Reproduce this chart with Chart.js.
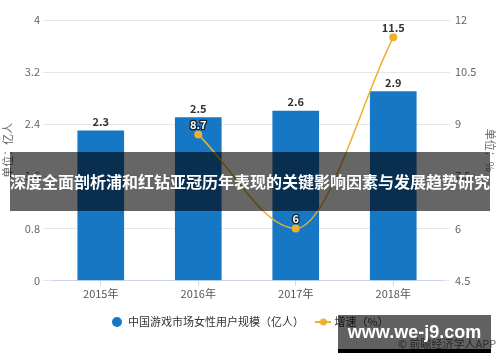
<!DOCTYPE html>
<html>
<head>
<meta charset="utf-8">
<script src="https://cdn.jsdelivr.net/npm/chart.js@4.4.1/dist/chart.umd.min.js"></script>
<style>
  html, body { margin: 0; padding: 0; background: #fff; }
  #wrap { position: relative; width: 500px; height: 362px; overflow: hidden; }
  #banner {
    position: absolute; left: 10px; top: 152px; width: 480px; height: 59px;
    background: rgba(0, 0, 0, 0.6); color: #fff;
    font: bold 16px "Noto Sans CJK SC", sans-serif; line-height: 59px;
    text-align: center; white-space: nowrap;
  }
  #source {
    position: absolute; left: 398px; top: 335px;
    font: 11px "Noto Sans CJK SC", sans-serif; color: #666; white-space: nowrap;
  }
  #site {
    position: absolute; left: 338px; top: 315px; width: 153px; height: 34px;
    background: rgba(0, 0, 0, 0.62); border-bottom: 4px solid #000;
    color: #fff; font: bold 18px "Liberation Sans", Arial, sans-serif;
    line-height: 34px; text-align: center; white-space: nowrap;
  }
</style>
</head>
<body>
<div id="wrap">
  <canvas id="chart" width="500" height="362"></canvas>
  <div id="banner">深度全面剖析浦和红钻亚冠历年表现的关键影响因素与发展趋势研究</div>
  <div id="source">© 前瞻经济学人APP</div>
  <div id="site">www.we-j9.com</div>
</div>
<script>
// データ
const years = ["2015年", "2016年", "2017年", "2018年"];
const femaleUsers = [2.3, 2.5, 2.6, 2.9];       // 亿人
const growthRate = [null, 8.7, 6, 11.5];        // %
const leftTicks = [0, 0.8, 1.6, 2.4, 3.2, 4];
const leftTickLabels = ["0", "0.8", "1.6", "2.4", "3.2", "4"];
const rightTicks = [4.5, 6, 7.5, 9, 10.5, 12];
const rightTickLabels = ["4.5", "6", "7.5", "9", "10.5", "12"];

const BLUE = "#1677c5";
const GOLD = "#eab02e";
const GRID = "#e6e6e6";
const FONT = '"Noto Sans CJK SC", sans-serif';

// 凡例マーカー（丸 / 線+丸）
function makeMarker(kind) {
    const c = document.createElement("canvas");
    const g = c.getContext("2d");
    if (kind === "circle") {
        c.width = 10; c.height = 10;
        g.fillStyle = BLUE;
        g.beginPath(); g.arc(5, 5, 5, 0, Math.PI * 2); g.fill();
    } else {
        c.width = 16; c.height = 10;
        g.strokeStyle = GOLD; g.lineWidth = 2;
        g.beginPath(); g.moveTo(0, 5); g.lineTo(16, 5); g.stroke();
        g.fillStyle = GOLD;
        g.beginPath(); g.arc(8, 5, 3.5, 0, Math.PI * 2); g.fill();
    }
    return c;
}
const markers = [makeMarker("circle"), makeMarker("line")];

// 値ラベル
const valueLabels = {
    id: "valueLabels",
    afterDatasetsDraw(chart) {
        const ctx = chart.ctx;
        const bars = chart.getDatasetMeta(0).data;
        ctx.save();
        ctx.font = "bold 11px " + FONT;
        ctx.textAlign = "center";
        ctx.textBaseline = "middle";
        bars.forEach((bar, i) => {
            ctx.fillStyle = "#333";
            ctx.fillText(String(femaleUsers[i]), bar.x, bar.y - 9);
        });
        chart.getDatasetMeta(1).data.forEach((pt, i) => {
            if (growthRate[i] == null) return;
            const y = pt.y - 10;
            const onBar = y > bars[i].y;
            ctx.lineJoin = "round";
            ctx.lineWidth = 2.5;
            ctx.strokeStyle = onBar ? "rgba(20,20,20,0.85)" : "#fff";
            ctx.fillStyle = onBar ? "#fff" : "#333";
            ctx.strokeText(String(growthRate[i]), pt.x, y);
            ctx.fillText(String(growthRate[i]), pt.x, y);
        });
        ctx.restore();
    },
};

new Chart(document.getElementById("chart"), {
    data: {
        labels: years,
        datasets: [
            {
                type: "bar",
                label: "中国游戏市场女性用户规模（亿人）",
                data: femaleUsers,
                backgroundColor: BLUE,
                barThickness: 46,
                yAxisID: "y",
                order: 2,
            },
            {
                type: "line",
                label: "增速（%）",
                data: growthRate,
                borderColor: GOLD,
                borderWidth: 1.5,
                backgroundColor: GOLD,
                pointRadius: 4,
                pointBorderWidth: 0,
                cubicInterpolationMode: "monotone",
                yAxisID: "y1",
                order: 1,
            },
        ],
    },
    options: {
        responsive: false,
        animation: false,
        layout: { padding: { top: 20, bottom: 24.5, left: 0, right: 0 } },
        scales: {
            x: {
                grid: {
                    drawOnChartArea: false,
                    offset: false,
                    tickLength: 5,
                    tickColor: "#ccd6eb",
                },
                border: { color: "#ccd6eb" },
                ticks: { color: "#555", font: { family: FONT, size: 11 }, padding: 2 },
                afterFit: (s) => { s.height = 22; },
            },
            y: {
                position: "left",
                min: 0,
                max: 4,
                afterBuildTicks: (s) => { s.ticks = leftTicks.map((v) => ({ value: v })); },
                ticks: {
                    callback: (v, i) => leftTickLabels[i],
                    color: "#666",
                    padding: 3,
                    font: { family: FONT, size: 11 },
                },
                grid: { color: GRID, tickColor: GRID, tickLength: 9 },
                border: { display: false },
                title: {
                    display: true,
                    text: "单位：亿人",
                    color: "#666",
                    font: { family: FONT, size: 11 },
                    padding: { top: 1.4, bottom: 0 },
                },
                afterFit: (s) => { s.width = 52; },
            },
            y1: {
                position: "right",
                min: 4.5,
                max: 12,
                afterBuildTicks: (s) => { s.ticks = rightTicks.map((v) => ({ value: v })); },
                ticks: {
                    callback: (v, i) => rightTickLabels[i],
                    color: "#666",
                    padding: 5,
                    font: { family: FONT, size: 11 },
                },
                grid: { drawOnChartArea: false, tickColor: GRID, tickLength: 8 },
                border: { display: false },
                title: {
                    display: true,
                    text: "单位：%",
                    color: "#666",
                    font: { family: FONT, size: 11 },
                    padding: { top: 3.4, bottom: 0 },
                },
                afterFit: (s) => { s.width = 58; },
            },
        },
        plugins: {
            tooltip: { enabled: false },
            legend: {
                position: "bottom",
                labels: {
                    usePointStyle: true,
                    boxWidth: 12,
                    boxHeight: 10,
                    padding: 14,
                    color: "#333",
                    font: { family: FONT, size: 11 },
                    generateLabels: (chart) =>
                        chart.data.datasets.map((ds, i) => ({
                            text: ds.label,
                            pointStyle: markers[i],
                            fillStyle: ds.backgroundColor,
                            strokeStyle: ds.backgroundColor,
                            lineWidth: 0,
                            fontColor: "#333",
                            datasetIndex: i,
                            hidden: false,
                        })),
                },
            },
        },
    },
    plugins: [valueLabels],
});
</script>
</body>
</html>
